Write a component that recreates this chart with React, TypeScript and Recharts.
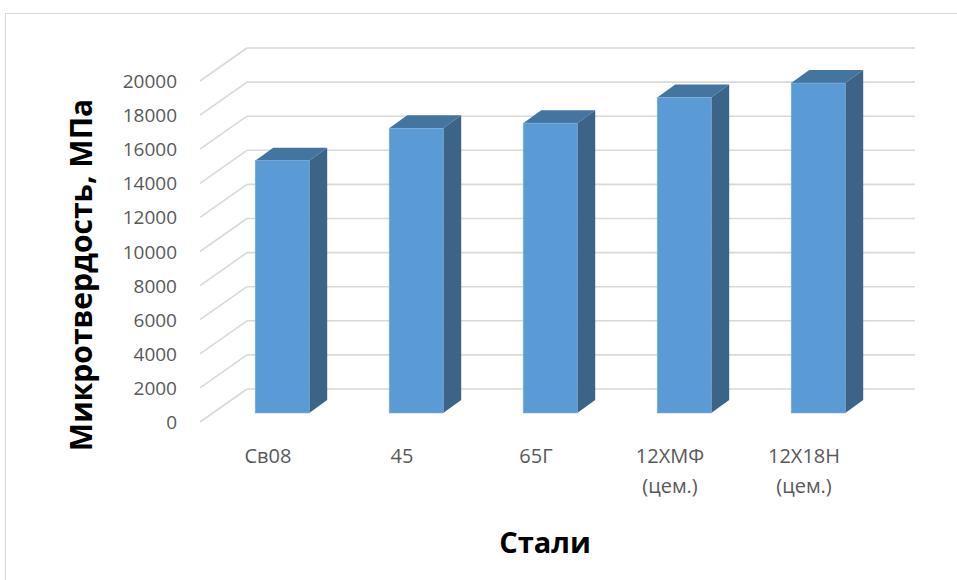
import React from 'react';
import { BarChart, Bar, XAxis, YAxis, CartesianGrid, Label } from 'recharts';

const steels = ['Св08', '45', '65Г', '12ХМФ\n(цем.)', '12Х18Н\n(цем.)'];
const hardness = [14800, 16700, 17000, 18500, 19350];
const yTicks = [0, 2000, 4000, 6000, 8000, 10000, 12000, 14000, 16000, 18000, 20000];

const data = steels.map((name, i) => ({ name, value: hardness[i] }));

// 3d offsets of the excel-style chart
const DEPTH_X = 18;
const DEPTH_Y = 13;
const WALL_X = 32;
const WALL_Y = 24;
const FLOOR_X = 15;
const FLOOR_Y = 9;

const font = '"Open Sans", "Noto Sans", sans-serif';

const Box3D = (props: any) => {
  const { x, y, width, height } = props;
  if (!height) return null;
  return (
    <g>
      <polygon
        points={`${x},${y} ${x + DEPTH_X},${y - DEPTH_Y} ${x + width + DEPTH_X},${y - DEPTH_Y} ${x + width},${y}`}
        fill="#4475a1"
      />
      <polygon
        points={`${x + width},${y} ${x + width + DEPTH_X},${y - DEPTH_Y} ${x + width + DEPTH_X},${y + height - DEPTH_Y} ${x + width},${y + height}`}
        fill="#3b6488"
      />
      <rect x={x} y={y} width={width} height={height} fill="#5b9bd5" stroke="#7fb0e0" strokeWidth={0.6} />
    </g>
  );
};

const gridLine = (p: any) => {
  const { x1, x2, y1 } = p;
  return (
    <g key={p.key ?? `g-${y1}`}>
      <line x1={x1 - FLOOR_X} y1={y1 + FLOOR_Y} x2={x1 + WALL_X} y2={y1 - WALL_Y} stroke="#d9d9d9" strokeWidth={1.6} />
      <line x1={x1 + WALL_X} y1={y1 - WALL_Y} x2={x2 + 30} y2={y1 - WALL_Y} stroke="#d9d9d9" strokeWidth={1.6} />
    </g>
  );
};

const YTick = (props: any) => {
  const { y, payload } = props;
  return (
    <text x={177} y={y + FLOOR_Y} textAnchor="end" dominantBaseline="central" fill="#595959" fontSize={19} fontFamily={font}>
      {payload.value}
    </text>
  );
};

const XTick = (props: any) => {
  const { x, payload } = props;
  const lines = String(payload.value).split('\n');
  return (
    <text textAnchor="middle" fill="#595959" fontSize={20} fontFamily={font}>
      {lines.map((t, i) => (
        <tspan key={i} x={x - 14} y={463 + i * 30}>
          {t}
        </tspan>
      ))}
    </text>
  );
};

const App: React.FC = () => {
  return (
    <div style={{ position: 'absolute', left: 0, top: 0, width: 957, height: 580, overflow: 'hidden', background: '#fff' }}>
      <div style={{ position: 'absolute', left: 5, top: 13, width: 1000, height: 700, border: '1px solid #d9d9d9' }} />
      <div style={{ position: 'absolute', left: 0, top: 0 }}>
        <BarChart
          width={957}
          height={580}
          data={data}
          margin={{ top: 72, right: 72, bottom: 137, left: 155 }}
          barCategoryGap="30%"
        >
          <CartesianGrid vertical={false} horizontal={gridLine} />
          <YAxis
            width={60}
            domain={[0, 20000]}
            ticks={yTicks}
            interval={0}
            axisLine={false}
            tickLine={false}
            tick={<YTick />}
          >
            <Label
              content={() => (
                <text
                  x={80}
                  y={275}
                  transform="rotate(-90 80 275)"
                  textAnchor="middle"
                  dominantBaseline="central"
                  fontSize={30}
                  fontWeight="bold"
                  fontFamily={font}
                  fill="#000"
                >
                  Микротвердость, МПа
                </text>
              )}
            />
          </YAxis>
          <XAxis dataKey="name" height={30} axisLine={false} tickLine={false} interval={0} tick={<XTick />}>
            <Label
              content={() => (
                <text x={545} y={553} textAnchor="middle" fontSize={29} fontWeight="bold" fontFamily={font} fill="#000">
                  Стали
                </text>
              )}
            />
          </XAxis>
          <Bar dataKey="value" shape={<Box3D />} isAnimationActive={false} />
        </BarChart>
      </div>
    </div>
  );
};

export default App;
